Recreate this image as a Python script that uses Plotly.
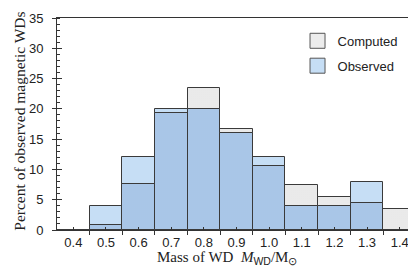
import plotly.graph_objects as go

mass_bins = [0.4, 0.5, 0.6, 0.7, 0.8, 0.9, 1.0, 1.1, 1.2, 1.3, 1.4]
observed = [0, 4.0, 12.0, 20.0, 20.0, 16.0, 12.0, 4.0, 4.0, 8.0, 0]
computed = [0, 0.75, 7.6, 19.3, 23.5, 16.6, 10.6, 7.5, 5.5, 4.5, 3.5]
overlap = [min(o, c) for o, c in zip(observed, computed)]
x_ticks = [0.4, 0.5, 0.6, 0.7, 0.8, 0.9, 1.0, 1.1, 1.2, 1.3, 1.4]
x_labels = ["0.4", "0.5", "0.6", "0.7", "0.8", "0.9", "1.0", "1.1", "1.2", "1.3", "1.4"]
y_ticks = [0, 5, 10, 15, 20, 25, 30, 35]

edge = dict(color="#3a3a3a", width=1)
gray, blue, dblue = "#ececec", "#c6def5", "#abc8e9"

fig = go.Figure()
fig.add_trace(go.Bar(
    x=mass_bins, y=computed, name="Computed", width=0.1, showlegend=False,
    marker=dict(color=gray, line=edge,
                pattern=dict(shape=".", bgcolor=gray, fgcolor="#dcdcdc", size=2, solidity=0.4)),
))
fig.add_trace(go.Bar(
    x=mass_bins, y=observed, name="Observed", width=0.1, showlegend=False,
    marker=dict(color=blue, line=edge),
))
fig.add_trace(go.Bar(
    x=mass_bins, y=overlap, name="overlap", width=0.1, showlegend=False,
    marker=dict(color=dblue, line=edge,
                pattern=dict(shape=".", bgcolor=dblue, fgcolor="#9dbbe0", size=2, solidity=0.4)),
))
# legend entries (larger square swatches)
for nm, col, grp in [("Computed", gray, "a"), ("Observed", blue, "b")]:
    fig.add_trace(go.Scatter(
        x=[None], y=[None], mode="markers", name=nm, legendgroup=grp,
        marker=dict(symbol="square", size=15, color=col, line=dict(color="#555", width=1)),
    ))
# invisible trace to carry inner major y ticks
fig.add_trace(go.Scatter(x=[0.4], y=[0], yaxis="y2", mode="markers",
                         marker=dict(opacity=0), showlegend=False, hoverinfo="skip"))

fig.add_annotation(
    text="Mass of WD  <i>M</i><sub><span style=\"font-family:'Liberation Sans'\">WD</span></sub>/M<sub>⊙</sub>",
    xref="paper", yref="paper", x=0.4735, y=-0.134, xanchor="center", yanchor="middle",
    showarrow=False, font=dict(family="Liberation Serif", size=15, color="#222"),
)
fig.add_annotation(
    text="Percent of observed magnetic WDs", textangle=-90,
    xref="paper", yref="paper", x=-0.103, y=0.511, xanchor="center", yanchor="middle",
    showarrow=False, font=dict(family="Liberation Serif", size=15.5, color="#222"),
)

fig.update_layout(
    width=416, height=267,
    margin=dict(l=49, r=8, t=10, b=45),
    barmode="overlay", bargap=0,
    plot_bgcolor="white", paper_bgcolor="white",
    font=dict(family="Liberation Sans", size=13, color="#222"),
    showlegend=True,
    legend=dict(x=0.67, y=0.963, xanchor="left", yanchor="top",
                font=dict(family="Liberation Sans", size=13, color="#222"),
                bgcolor="rgba(0,0,0,0)", tracegroupgap=5, itemwidth=30),
    xaxis=dict(
        range=[0.35, 1.45], tickvals=x_ticks, ticktext=x_labels,
        ticks="inside", ticklen=3, tickcolor="#333",
        minor=dict(tick0=0.45, dtick=0.1, ticks="outside", ticklen=4, tickcolor="#333"),
        showline=True, linecolor="#333", linewidth=1, mirror=True,
        showgrid=False, zeroline=False, automargin=False,
        tickfont=dict(family="Liberation Sans", size=13),
    ),
    yaxis=dict(
        range=[0, 35], tickvals=y_ticks,
        ticks="outside", ticklen=4, tickcolor="#333", ticklabelstandoff=6,
        minor=dict(dtick=1, ticks="inside", ticklen=3, tickcolor="#333"),
        showline=True, linecolor="#333", linewidth=1, mirror=True,
        showgrid=False, zeroline=False, automargin=False,
        tickfont=dict(family="Liberation Sans", size=13),
    ),
    yaxis2=dict(
        range=[0, 35], overlaying="y", side="left", tickvals=y_ticks,
        ticks="inside", ticklen=5, tickcolor="#333", showticklabels=False,
        showgrid=False, zeroline=False, showline=False, automargin=False,
    ),
)

fig.write_html("out.html")
